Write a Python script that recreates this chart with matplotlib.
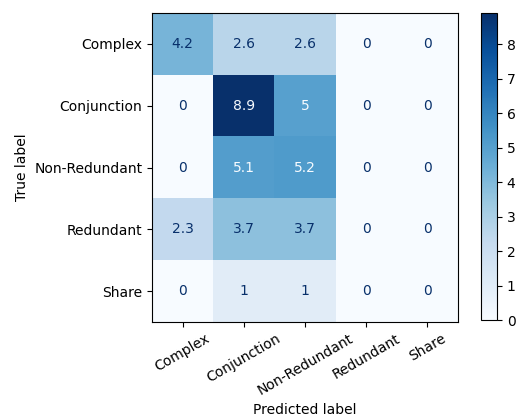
import numpy as np
import matplotlib
matplotlib.use("Agg")
import matplotlib.pyplot as plt

labels = ["Complex", "Conjunction", "Non-Redundant", "Redundant", "Share"]
row_complex = [4.2, 2.6, 2.6, 0, 0]
row_conjunction = [0, 8.9, 5, 0, 0]
row_nonredundant = [0, 5.1, 5.2, 0, 0]
row_redundant = [2.3, 3.7, 3.7, 0, 0]
row_share = [0, 1, 1, 0, 0]

cm = np.array([row_complex, row_conjunction, row_nonredundant, row_redundant, row_share])
n = len(labels)

fig = plt.figure(figsize=(5.17, 4.17), dpi=100)
ax = fig.add_axes([152/517, 95/417, 306/517, 309/417])
cax = fig.add_axes([481/517, 97/417, 16/517, 307/417])

cmap = plt.cm.Blues
im = ax.imshow(cm, interpolation="nearest", cmap=cmap, aspect="auto")
cb = fig.colorbar(im, cax=cax)
cb.set_ticks(range(0, 9))

thresh = (cm.max() + cm.min()) / 2.0
for i in range(n):
    for j in range(n):
        v = cm[i, j]
        color = cmap(0) if v > thresh else cmap(256)
        ax.text(j, i, format(v, ".2g"), ha="center", va="center", color=color, fontsize=10)

ax.set_xticks(np.arange(n))
ax.set_yticks(np.arange(n))
ax.set_xticklabels(labels, rotation=30)
ax.set_yticklabels(labels)
ax.set_xlabel("Predicted label")
ax.set_ylabel("True label")
ax.set_ylim(n - 0.5, -0.5)

fig.savefig("out.png", dpi=100)
